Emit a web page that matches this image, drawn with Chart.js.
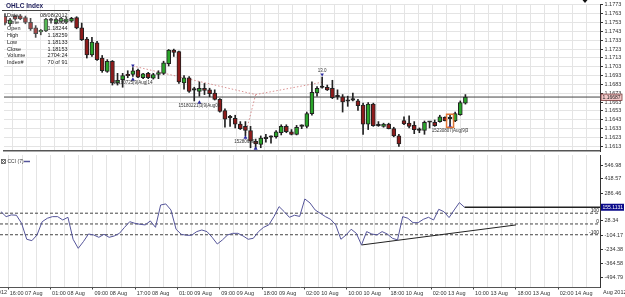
<!DOCTYPE html>
<html>
<head>
<meta charset="utf-8">
<script src="https://cdn.jsdelivr.net/npm/chart.js@4.4.0/dist/chart.umd.min.js"></script>
<style>
html, body { margin: 0; padding: 0; background: #fff; }
#wrap { position: relative; width: 625px; height: 297px; overflow: hidden; }
#priceChart { position: absolute; left: 0; top: 0; }
#cciChart { position: absolute; left: 0; top: 155px; }
</style>
</head>
<body>
<div id="wrap">
<canvas id="priceChart" width="625" height="155"></canvas>
<canvas id="cciChart" width="625" height="142"></canvas>
</div>
<script>
// hourly bars 0..90
var opens = [1.17601,1.17517,1.17601,1.17606,1.17587,1.17533,1.17471,1.17425,1.17435,1.17557,
  1.17530,1.17543,1.17536,1.17547,1.17587,1.17471,1.17345,1.17165,1.17301,1.17129,
  1.16977,1.17093,1.16848,1.16885,1.16942,1.16942,1.16993,1.16906,1.16956,1.16902,
  1.16942,1.16956,1.17064,1.17219,1.17201,1.16848,1.16906,1.16769,1.16751,1.16787,
  1.16769,1.16733,1.16661,1.16535,1.16456,1.16445,1.16380,1.16355,1.16308,1.16186,
  1.16150,1.16218,1.16232,1.16237,1.16283,1.16355,1.16294,1.16265,1.16355,1.16355,
  1.16499,1.16733,1.16798,1.16798,1.16787,1.16693,1.16690,1.16643,1.16653,1.16643,
  1.16596,1.16380,1.16607,1.16362,1.16355,1.16380,1.16329,1.16247,1.16420,1.16391,
  1.16366,1.16312,1.16308,1.16402,1.16402,1.16409,1.16456,1.16445,1.16416,1.16488,
  1.16618];
var highs = [1.17633,1.17579,1.17611,1.17622,1.17604,1.17579,1.17496,1.17453,1.17579,1.17579,
  1.17584,1.17590,1.17590,1.17590,1.17597,1.17525,1.17363,1.17363,1.17317,1.17158,
  1.17111,1.17101,1.16956,1.16956,1.16985,1.17021,1.17003,1.16956,1.16967,1.16956,
  1.16985,1.17093,1.17226,1.17230,1.17209,1.16931,1.16920,1.16798,1.16859,1.16841,
  1.16787,1.16769,1.16669,1.16553,1.16481,1.16481,1.16409,1.16409,1.16355,1.16211,
  1.16247,1.16265,1.16247,1.16308,1.16373,1.16373,1.16319,1.16366,1.16373,1.16517,
  1.16859,1.16805,1.16913,1.16823,1.16877,1.16769,1.16715,1.16697,1.16733,1.16661,
  1.16618,1.16625,1.16618,1.16409,1.16391,1.16391,1.16345,1.16265,1.16463,1.16474,
  1.16409,1.16337,1.16416,1.16409,1.16427,1.16481,1.16463,1.16481,1.16517,1.16643,
  1.16715];
var lows = [1.17503,1.17496,1.17557,1.17563,1.17517,1.17442,1.17363,1.17392,1.17428,1.17525,
  1.17514,1.17525,1.17525,1.17536,1.17460,1.17327,1.17129,1.17147,1.17101,1.16967,
  1.16967,1.16823,1.16823,1.16798,1.16906,1.16920,1.16906,1.16895,1.16895,1.16891,
  1.16895,1.16942,1.17039,1.17147,1.16841,1.16777,1.16740,1.16643,1.16697,1.16715,
  1.16690,1.16653,1.16517,1.16345,1.16355,1.16337,1.16319,1.16247,1.16113,1.16103,
  1.16113,1.16175,1.16164,1.16221,1.16258,1.16283,1.16258,1.16258,1.16329,1.16337,
  1.16481,1.16697,1.16787,1.16761,1.16669,1.16661,1.16517,1.16582,1.16643,1.16535,
  1.16265,1.16319,1.16355,1.16355,1.16345,1.16326,1.16237,1.16129,1.16373,1.16337,
  1.16272,1.16283,1.16265,1.16337,1.16355,1.16402,1.16416,1.16355,1.16409,1.16481,
  1.16607];
var closes = [1.17525,1.17561,1.17568,1.17574,1.17533,1.17460,1.17406,1.17442,1.17571,1.17555,
  1.17568,1.17579,1.17571,1.17579,1.17471,1.17338,1.17165,1.17309,1.17111,1.16985,
  1.17093,1.16848,1.16877,1.16931,1.16928,1.16985,1.16913,1.16949,1.16906,1.16942,
  1.16963,1.17075,1.17219,1.17193,1.16859,1.16906,1.16751,1.16766,1.16787,1.16761,
  1.16726,1.16661,1.16524,1.16437,1.16452,1.16380,1.16329,1.16308,1.16186,1.16157,
  1.16221,1.16216,1.16234,1.16294,1.16355,1.16294,1.16265,1.16345,1.16358,1.16499,
  1.16740,1.16787,1.16795,1.16769,1.16679,1.16690,1.16632,1.16640,1.16656,1.16589,
  1.16380,1.16607,1.16362,1.16365,1.16380,1.16329,1.16247,1.16157,1.16383,1.16355,
  1.16319,1.16310,1.16402,1.16404,1.16362,1.16463,1.16420,1.16442,1.16499,1.16625,
  1.16687];
var cciValues = [114,68,84,81,6,-142,-155,-102,21,53,
  68,68,37,62,-142,-226,-164,-93,-102,-124,
  -96,-124,-111,-87,-31,21,6,-3,-9,28,
  -31,176,186,130,-49,-96,-105,-105,-71,-56,
  -71,-124,-186,-148,-102,-87,-87,-111,-142,-133,
  -71,-31,-9,68,161,114,62,81,70,232,
  195,130,99,68,43,-9,-142,-102,-49,-87,
  -195,-71,-93,-102,-71,-93,-133,-148,68,53,
  12,12,43,62,37,136,114,59,130,198,
  155.1131];

var priceTicks = [1.1613,1.1623,1.1633,1.1643,1.1653,1.1663,1.1673,1.1683,1.1693,
  1.1703,1.1713,1.1723,1.1733,1.1743,1.1753,1.1763,1.1773];
var cciTicks = [-494.79,-364.58,-234.38,-104.17,28.34,286.46,418.57,546.98];
var cciLevels = [100, 0, -100];
var timeLabels = ['16:00 07 Aug','01:00 08 Aug','09:00 08 Aug','17:00 08 Aug','01:00 09 Aug',
  '09:00 09 Aug','18:00 09 Aug','02:00 10 Aug','10:00 10 Aug','18:00 10 Aug',
  '02:00 13 Aug','10:00 13 Aug','18:00 13 Aug','02:00 14 Aug'];
var lastPrice = 1.16687;
var lastCci = 155.1131;

var swingLine = [{x: 25, y: 1.17039}, {x: 49, y: 1.16715}, {x: 62, y: 1.16855}];
var swingLine2 = [{x: 49, y: 1.16715}, {x: 47, y: 1.16265}];
var upMarks = [{x: 25, y: 1.16884}, {x: 38, y: 1.16625}, {x: 47, y: 1.16229}, {x: 49, y: 1.16103}, {x: 87, y: 1.16355}];
var downMarks = [{x: 25, y: 1.17044}, {x: 62, y: 1.16942}];
var notes = [
  {x: 25, y: 1.16844, t: '15180725|9|Aug|14'},
  {x: 38, y: 1.16585, t: '15180221|3|9|Aug09'},
  {x: 47, y: 1.16185, t: '152806301'},
  {x: 87, y: 1.16307, t: '15230807|Aug|9|3'},
  {x: 62, y: 1.16985, t: '13.0'}
];
var highlightBar = 87;
var cciTrend = [{x: 70, y: -195}, {x: 100, y: -9}];
var infoRows = [['Date','08/08/2012'],['Time','20:00'],['Open','1.18244'],['High','1.18259'],
  ['Low','1.18133'],['Close','1.18153'],['Volume','2704:24'],['Index#','70 of 91']];

var xMin = -0.19, xMax = 116.31;
var gridStart = 1.417, gridStep = 2.738;
var FONT = '"Liberation Sans", Arial, sans-serif';
var cciColor = '#55559a';

function buildXTicks(scale) {
  var t = [];
  for (var k = 0; k < 42; k++) t.push({ value: gridStart + gridStep * k });
  scale.ticks = t;
}
function fixYAxis(scale) {
  scale.width = 25;
  scale.paddingTop = 0;
  scale.paddingBottom = 0;
}

var bodies = opens.map(function(o, i) { return { x: i, y: [o, closes[i]] }; });
var bodyColors = opens.map(function(o, i) {
  if (Math.abs(closes[i] - o) < 0.00005) return '#222';
  return closes[i] > o ? '#2aa52a' : '#8e1b1b';
});
var wicks = lows.map(function(l, i) { return { x: i, y: [l, highs[i]] }; });

var priceExtras = {
  id: 'priceExtras',
  afterDraw: function(chart) {
    var ctx = chart.ctx, xs = chart.scales.x, ys = chart.scales.y, area = chart.chartArea;
    ctx.save();
    // highlighted bar
    var hx = xs.getPixelForValue(highlightBar);
    var hTop = ys.getPixelForValue(highs[highlightBar]) - 1;
    var hBot = ys.getPixelForValue(lows[highlightBar]) + 1;
    ctx.strokeStyle = '#e07535';
    ctx.lineWidth = 1.5;
    ctx.strokeRect(hx - 3.5, hTop, 7, hBot - hTop);
    // small notes
    ctx.font = '4.5px ' + FONT;
    ctx.fillStyle = '#333';
    ctx.textAlign = 'center';
    ctx.textBaseline = 'middle';
    notes.forEach(function(n) {
      ctx.fillText(n.t, xs.getPixelForValue(n.x), ys.getPixelForValue(n.y));
    });
    // info box
    ctx.fillStyle = 'rgba(255,255,255,0.2)';
    ctx.fillRect(2, 2, 68, 64);
    ctx.textAlign = 'left';
    ctx.font = 'bold 6.5px ' + FONT;
    ctx.fillStyle = '#1c1c5a';
    ctx.fillText('OHLC Index', 6, 6.5);
    ctx.strokeStyle = '#444';
    ctx.lineWidth = 1;
    ctx.beginPath();
    ctx.moveTo(2, 10.5);
    ctx.lineTo(70, 10.5);
    ctx.stroke();
    ctx.font = '5.5px ' + FONT;
    ctx.fillStyle = '#222';
    infoRows.forEach(function(r, k) {
      var y = 15.5 + k * 6.7;
      ctx.textAlign = 'left';
      ctx.fillText(r[0], 7, y);
      ctx.textAlign = 'right';
      ctx.fillText(r[1], 67.5, y);
    });
    // last price box
    var py = ys.getPixelForValue(lastPrice);
    ctx.fillStyle = '#f3c8c8';
    ctx.fillRect(area.right + 1, py - 3, 21, 6.5);
    ctx.strokeStyle = '#7a3a3a';
    ctx.lineWidth = 0.8;
    ctx.strokeRect(area.right + 1, py - 3, 21, 6.5);
    ctx.fillStyle = '#222';
    ctx.textAlign = 'left';
    ctx.font = '5px ' + FONT;
    ctx.fillText(lastPrice.toFixed(5), area.right + 2.5, py + 0.3);
    // marker top right
    ctx.fillStyle = '#111';
    ctx.beginPath();
    ctx.moveTo(582.5, 0);
    ctx.lineTo(587.5, 0);
    ctx.lineTo(585, 3);
    ctx.fill();
    ctx.restore();
  }
};

var cciExtras = {
  id: 'cciExtras',
  afterDraw: function(chart) {
    var ctx = chart.ctx, ys = chart.scales.y, area = chart.chartArea;
    ctx.save();
    // legend
    ctx.strokeStyle = '#555';
    ctx.lineWidth = 0.8;
    ctx.strokeRect(1.5, 4.5, 4, 4);
    ctx.beginPath();
    ctx.moveTo(2, 5); ctx.lineTo(5, 8); ctx.moveTo(5, 5); ctx.lineTo(2, 8);
    ctx.stroke();
    ctx.font = '5px ' + FONT;
    ctx.fillStyle = '#333';
    ctx.textBaseline = 'middle';
    ctx.textAlign = 'left';
    ctx.fillText('CCI (7)', 7.5, 6.7);
    ctx.strokeStyle = cciColor;
    ctx.lineWidth = 1.5;
    ctx.beginPath();
    ctx.moveTo(24, 6.5); ctx.lineTo(30, 6.5);
    ctx.stroke();
    // level labels
    ctx.textAlign = 'right';
    ctx.fillStyle = '#222';
    cciLevels.forEach(function(v) {
      ctx.fillText(String(v), area.right - 1, ys.getPixelForValue(v) - 2.5);
    });
    // current value box
    var vy = ys.getPixelForValue(lastCci);
    ctx.fillStyle = '#0a0a8a';
    ctx.fillRect(area.right + 1, vy - 3.5, 23, 7);
    ctx.fillStyle = '#fff';
    ctx.textAlign = 'left';
    ctx.font = '5px ' + FONT;
    ctx.fillText(lastCci.toFixed(4), area.right + 2.5, vy + 0.3);
    // axis captions
    ctx.fillStyle = '#333';
    ctx.font = '5.5px ' + FONT;
    ctx.fillText('Aug 2012', area.right + 3, 137.5);
    ctx.textAlign = 'right';
    ctx.fillText('08/2012', 7, 137.5);
    ctx.restore();
  }
};

new Chart(document.getElementById('priceChart'), {
  type: 'bar',
  data: {
    datasets: [
      { type: 'bar', data: bodies, backgroundColor: bodyColors, borderColor: '#222', borderWidth: 1,
        borderSkipped: false, barThickness: 4, minBarLength: 1.5, grouped: false, order: 1 },
      { type: 'bar', data: wicks, backgroundColor: '#222', barThickness: 1, grouped: false, order: 2 },
      { type: 'line', data: [{x: xMin, y: lastPrice}, {x: xMax, y: lastPrice}], borderColor: '#444',
        borderWidth: 1, pointRadius: 0, order: 6 },
      { type: 'line', data: swingLine, borderColor: 'rgba(205,110,110,0.75)', borderWidth: 1,
        borderDash: [1.5, 2], pointRadius: 0, order: 5 },
      { type: 'line', data: swingLine2, borderColor: 'rgba(205,110,110,0.75)', borderWidth: 1,
        borderDash: [1.5, 2], pointRadius: 0, order: 5 },
      { type: 'line', data: upMarks, showLine: false, pointStyle: 'triangle', pointRadius: 2.3,
        backgroundColor: '#2a2aa0', borderWidth: 0, order: 0 },
      { type: 'line', data: downMarks, showLine: false, pointStyle: 'triangle', pointRotation: 180,
        pointRadius: 2, backgroundColor: '#2a2aa0', borderWidth: 0, order: 0 }
    ]
  },
  options: {
    responsive: false,
    devicePixelRatio: 1,
    animation: false,
    layout: { padding: 0 },
    plugins: { legend: { display: false }, tooltip: { enabled: false } },
    scales: {
      x: {
        type: 'linear', min: xMin, max: xMax, offset: false,
        afterBuildTicks: buildXTicks,
        afterFit: function(s) { s.height = 1; s.paddingLeft = 0; s.paddingRight = 0; },
        ticks: { display: false },
        grid: { color: '#e4e4e4', drawTicks: false, offset: false },
        border: { color: '#555', width: 1.5 }
      },
      y: {
        position: 'right', min: 1.16076, max: 1.17741,
        afterBuildTicks: function(s) { s.ticks = priceTicks.map(function(v) { return { value: v }; }); },
        afterFit: fixYAxis,
        ticks: { autoSkip: false, padding: 1.5, color: '#333', font: { family: FONT, size: 5.5 },
          callback: function(v) { return v.toFixed(4); } },
        grid: { color: '#e4e4e4', tickLength: 3, tickColor: '#333' },
        border: { color: '#333', width: 1 }
      }
    }
  },
  plugins: [priceExtras]
});

new Chart(document.getElementById('cciChart'), {
  type: 'line',
  data: {
    datasets: [
      { data: cciValues.map(function(v, i) { return { x: i, y: v }; }), borderColor: cciColor,
        borderWidth: 1, pointRadius: 0, tension: 0, order: 1 },
      { data: [{x: cciValues.length - 1, y: lastCci}, {x: xMax, y: lastCci}], borderColor: '#222',
        borderWidth: 1.5, pointRadius: 0, order: 2 },
      { data: cciTrend, borderColor: '#222', borderWidth: 1, pointRadius: 0, order: 2 }
    ].concat(cciLevels.map(function(v) {
      return { data: [{x: xMin, y: v}, {x: xMax, y: v}], borderColor: '#444', borderWidth: 1,
        borderDash: [3, 2], pointRadius: 0, order: 3 };
    }))
  },
  options: {
    responsive: false,
    devicePixelRatio: 1,
    animation: false,
    layout: { padding: 0 },
    plugins: { legend: { display: false }, tooltip: { enabled: false } },
    scales: {
      x: {
        type: 'linear', min: xMin, max: xMax,
        afterBuildTicks: buildXTicks,
        afterFit: function(s) { s.height = 10; s.paddingLeft = 0; s.paddingRight = 0; },
        ticks: { autoSkip: false, maxRotation: 0, align: 'start', padding: 0.5, labelOffset: 1.5,
          color: '#333', font: { family: FONT, size: 5.5 },
          callback: function(v, i) { return i % 3 === 0 ? timeLabels[i / 3] : ''; } },
        grid: { color: '#e4e4e4', tickLength: 2.5,
          tickColor: function(c) { return c.index % 3 === 0 ? '#444' : 'rgba(0,0,0,0)'; } },
        border: { color: '#555', width: 1 }
      },
      y: {
        position: 'right', min: -585, max: 640,
        afterBuildTicks: function(s) { s.ticks = cciTicks.map(function(v) { return { value: v }; }); },
        afterFit: fixYAxis,
        ticks: { autoSkip: false, padding: 1.5, color: '#333', font: { family: FONT, size: 5.5 },
          callback: function(v) { return v.toFixed(2); } },
        grid: { drawOnChartArea: false, tickLength: 3, tickColor: '#333' },
        border: { color: '#333', width: 1 }
      }
    }
  },
  plugins: [cciExtras]
});
</script>
</body>
</html>
